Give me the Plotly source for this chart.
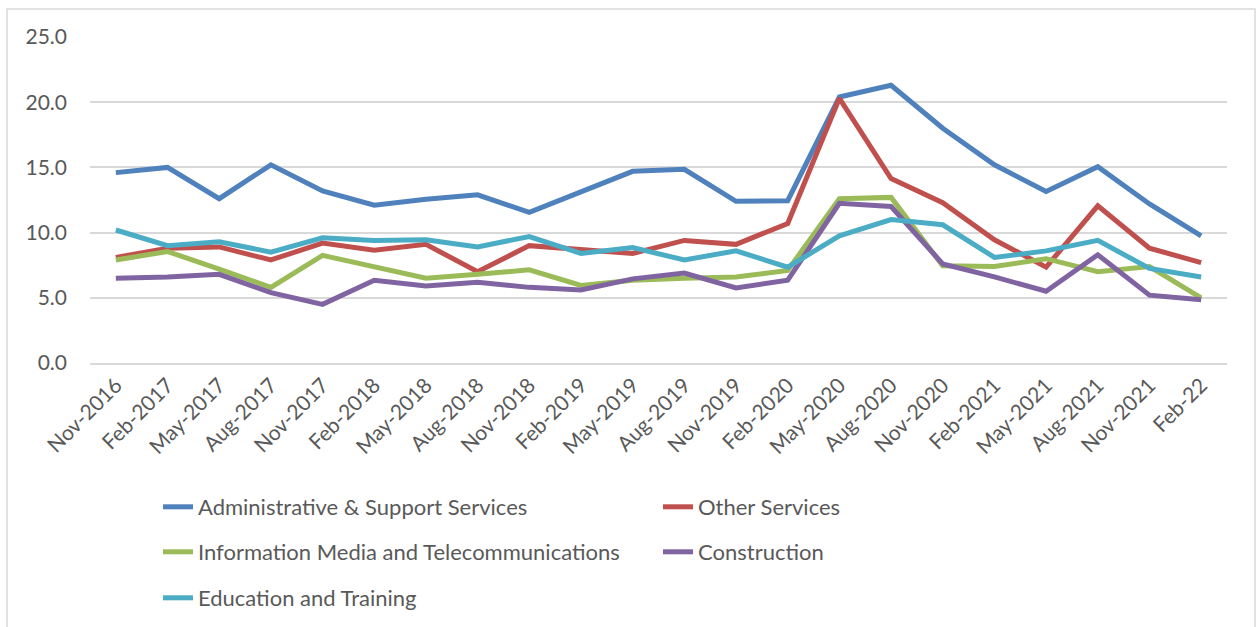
import plotly.graph_objects as go

# Quarterly periods on the category axis
periods = ["Nov-2016", "Feb-2017", "May-2017", "Aug-2017", "Nov-2017", "Feb-2018",
           "May-2018", "Aug-2018", "Nov-2018", "Feb-2019", "May-2019", "Aug-2019",
           "Nov-2019", "Feb-2020", "May-2020", "Aug-2020", "Nov-2020", "Feb-2021",
           "May-2021", "Aug-2021", "Nov-2021", "Feb-22"]

admin_support = [14.6, 15.0, 12.6, 15.2, 13.2, 12.1, 12.55, 12.9, 11.55, 13.1, 14.7, 14.85,
                 12.4, 12.45, 20.4, 21.3, 18.0, 15.2, 13.15, 15.05, 12.2, 9.75]
other_services = [8.1, 8.8, 8.9, 7.9, 9.2, 8.65, 9.1, 7.0, 9.0, 8.7, 8.4, 9.4,
                  9.1, 10.7, 20.3, 14.15, 12.3, 9.45, 7.35, 12.05, 8.8, 7.7]
info_media = [7.9, 8.55, 7.2, 5.8, 8.25, 7.4, 6.5, 6.8, 7.15, 5.95, 6.35, 6.5,
              6.6, 7.1, 12.6, 12.7, 7.45, 7.4, 8.0, 7.0, 7.4, 5.0]
construction = [6.5, 6.6, 6.8, 5.4, 4.5, 6.35, 5.9, 6.2, 5.8, 5.6, 6.45, 6.9,
                5.75, 6.35, 12.25, 12.0, 7.6, 6.6, 5.5, 8.3, 5.2, 4.85]
education = [10.2, 9.0, 9.3, 8.5, 9.6, 9.4, 9.45, 8.9, 9.7, 8.4, 8.85, 7.9,
             8.6, 7.35, 9.75, 11.0, 10.6, 8.1, 8.6, 9.4, 7.25, 6.6]

y_ticks = [0, 5, 10, 15, 20, 25]

series = [
    ("Administrative & Support Services", admin_support, "#4F81BD", "legend"),
    ("Other Services", other_services, "#C0504D", "legend"),
    ("Information Media and Telecommunications", info_media, "#9BBB59", "legend2"),
    ("Construction", construction, "#8064A2", "legend2"),
    ("Education and Training", education, "#4BACC6", "legend3"),
]

FONT = "Lato, 'Open Sans', sans-serif"
TEXT = "#595959"

fig = go.Figure()
for name, vals, color, leg in series:
    fig.add_trace(go.Scatter(
        x=periods, y=vals, mode="lines", name=name, legend=leg,
        line=dict(color=color, width=5),
    ))

W, H = 1258, 627
ml, mr, mt, mb = 90, 31, 37, 264
pw, ph = W - ml - mr, H - mt - mb


def px_x(p):
    return (p - ml) / pw


def px_y(p):
    return (H - mb - p) / ph


leg_common = dict(orientation="h", xanchor="left", yanchor="middle",
                  entrywidth=455, font=dict(family=FONT, size=22, color=TEXT),
                  bgcolor="rgba(0,0,0,0)", itemwidth=30)

fig.update_layout(
    width=W, height=H,
    margin=dict(l=ml, r=mr, t=mt, b=mb, autoexpand=False),
    paper_bgcolor="white", plot_bgcolor="white",
    font=dict(family=FONT, size=20, color=TEXT),
    xaxis=dict(
        type="category", range=[-0.5, len(periods) - 0.5],
        tickangle=-45, showgrid=False, showline=True, linecolor="#D9D9D9", linewidth=1.5,
        ticks="", tickfont=dict(family=FONT, size=21, color=TEXT),
    ),
    yaxis=dict(
        range=[0, 25], tickvals=y_ticks, tickformat=".1f",
        showgrid=True, gridcolor="#D9D9D9", gridwidth=1.5,
        zeroline=False, showline=False, ticks="",
        tickfont=dict(family=FONT, size=21, color=TEXT),
        ticklabelstandoff=22,
    ),
    legend=dict(x=px_x(158), y=px_y(507), **leg_common),
    legend2=dict(x=px_x(158), y=px_y(552), **leg_common),
    legend3=dict(x=px_x(158), y=px_y(598), **leg_common),
    showlegend=True,
    shapes=[dict(
        type="rect", xref="paper", yref="paper",
        x0=px_x(7), x1=px_x(1255), y0=px_y(640), y1=px_y(9),
        line=dict(color="#D9D9D9", width=1.5), fillcolor="rgba(0,0,0,0)", layer="below",
    )],
)

fig.write_html("out.html")
